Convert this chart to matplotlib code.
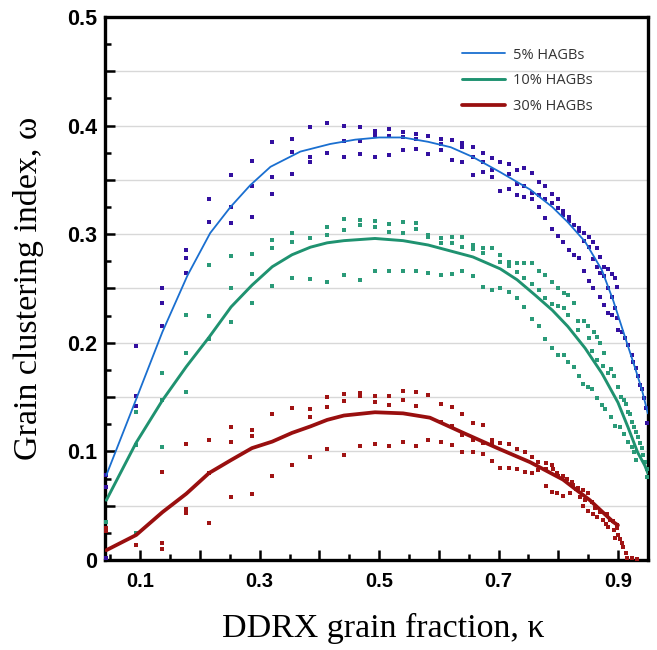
import matplotlib
matplotlib.use('Agg')
import matplotlib.pyplot as plt
import numpy as np
from matplotlib.ticker import MultipleLocator, FuncFormatter

# ---- data: (kappa, omega) pairs ----
hagb5_pts = [
    (0.043, 0.078), (0.043, 0.067), (0.043, 0.002),
    (0.093, 0.197), (0.093, 0.151), (0.093, 0.142),
    (0.137, 0.250), (0.137, 0.237), (0.137, 0.215),
    (0.177, 0.285), (0.177, 0.278), (0.177, 0.264),
    (0.215, 0.332), (0.215, 0.311),
    (0.252, 0.354), (0.252, 0.325), (0.252, 0.310),
    (0.287, 0.367), (0.287, 0.344), (0.287, 0.316),
    (0.321, 0.385), (0.321, 0.353), (0.321, 0.337),
    (0.354, 0.388), (0.354, 0.376), (0.354, 0.355),
    (0.385, 0.399), (0.385, 0.371), (0.385, 0.366),
    (0.413, 0.402), (0.413, 0.375),
    (0.441, 0.400), (0.441, 0.386), (0.441, 0.371),
    (0.468, 0.399), (0.468, 0.386), (0.468, 0.374),
    (0.493, 0.395), (0.493, 0.391), (0.493, 0.371),
    (0.517, 0.397), (0.517, 0.390), (0.517, 0.373),
    (0.540, 0.394), (0.540, 0.389), (0.540, 0.377),
    (0.562, 0.392), (0.562, 0.388), (0.562, 0.378),
    (0.582, 0.390), (0.582, 0.374),
    (0.604, 0.388), (0.604, 0.383), (0.604, 0.377),
    (0.622, 0.387), (0.622, 0.368),
    (0.639, 0.384), (0.639, 0.380), (0.639, 0.366),
    (0.657, 0.380), (0.657, 0.371), (0.657, 0.354),
    (0.674, 0.375), (0.674, 0.366), (0.674, 0.357),
    (0.689, 0.370), (0.689, 0.359), (0.689, 0.353),
    (0.703, 0.366), (0.703, 0.340),
    (0.718, 0.365), (0.718, 0.355), (0.718, 0.342),
    (0.731, 0.359), (0.731, 0.346), (0.731, 0.336),
    (0.743, 0.361), (0.743, 0.344), (0.743, 0.334),
    (0.756, 0.356), (0.756, 0.338), (0.756, 0.332),
    (0.768, 0.348), (0.768, 0.336), (0.768, 0.325),
    (0.778, 0.344), (0.778, 0.332), (0.778, 0.315),
    (0.790, 0.337), (0.790, 0.329), (0.790, 0.305),
    (0.800, 0.332), (0.800, 0.324), (0.800, 0.298),
    (0.808, 0.321), (0.808, 0.318), (0.808, 0.293),
    (0.818, 0.316), (0.818, 0.312), (0.818, 0.285),
    (0.826, 0.308), (0.826, 0.281),
    (0.835, 0.306), (0.835, 0.303), (0.835, 0.278),
    (0.843, 0.301), (0.843, 0.294), (0.843, 0.266),
    (0.851, 0.297), (0.851, 0.288), (0.851, 0.257),
    (0.858, 0.293), (0.858, 0.277), (0.858, 0.250),
    (0.865, 0.287), (0.865, 0.270),
    (0.870, 0.279), (0.870, 0.264), (0.870, 0.242),
    (0.877, 0.270), (0.877, 0.261), (0.877, 0.235),
    (0.883, 0.268), (0.883, 0.250), (0.883, 0.227),
    (0.890, 0.263), (0.890, 0.242), (0.890, 0.226),
    (0.895, 0.260), (0.895, 0.232),
    (0.898, 0.251), (0.898, 0.223),
    (0.900, 0.212), (0.907, 0.210), (0.912, 0.204), (0.917, 0.198),
    (0.923, 0.189), (0.925, 0.182), (0.930, 0.177), (0.933, 0.169),
    (0.937, 0.161), (0.940, 0.157), (0.943, 0.149), (0.947, 0.140),
    (0.949, 0.126),
]

hagb10_pts = [
    (0.043, 0.035),
    (0.093, 0.136), (0.093, 0.106), (0.093, 0.025),
    (0.137, 0.172), (0.137, 0.147), (0.137, 0.104),
    (0.177, 0.226), (0.177, 0.191), (0.177, 0.155),
    (0.215, 0.272), (0.215, 0.225), (0.215, 0.203),
    (0.252, 0.280), (0.252, 0.250), (0.252, 0.219),
    (0.287, 0.282), (0.287, 0.263), (0.287, 0.237),
    (0.321, 0.295), (0.321, 0.287), (0.321, 0.252),
    (0.354, 0.301), (0.354, 0.293), (0.354, 0.260),
    (0.385, 0.296), (0.385, 0.259),
    (0.413, 0.307), (0.413, 0.299), (0.413, 0.256),
    (0.441, 0.314), (0.441, 0.304), (0.441, 0.262),
    (0.468, 0.313), (0.468, 0.308), (0.468, 0.258),
    (0.493, 0.312), (0.493, 0.307), (0.493, 0.266),
    (0.517, 0.309), (0.517, 0.302), (0.517, 0.266),
    (0.540, 0.311), (0.540, 0.301), (0.540, 0.266),
    (0.562, 0.310), (0.562, 0.305), (0.562, 0.266),
    (0.582, 0.299), (0.582, 0.297), (0.582, 0.264),
    (0.604, 0.296), (0.604, 0.292), (0.604, 0.262),
    (0.622, 0.297), (0.622, 0.292), (0.622, 0.263),
    (0.639, 0.297), (0.639, 0.288), (0.639, 0.266),
    (0.657, 0.290), (0.657, 0.286), (0.657, 0.261),
    (0.674, 0.287), (0.674, 0.283), (0.674, 0.251),
    (0.689, 0.287), (0.689, 0.249),
    (0.703, 0.281), (0.703, 0.274), (0.703, 0.250),
    (0.718, 0.274), (0.718, 0.271), (0.718, 0.247),
    (0.731, 0.273), (0.731, 0.265), (0.731, 0.241),
    (0.743, 0.273), (0.743, 0.260), (0.743, 0.233),
    (0.756, 0.273), (0.756, 0.254), (0.756, 0.222),
    (0.768, 0.266), (0.768, 0.249), (0.768, 0.215),
    (0.778, 0.262), (0.778, 0.241), (0.778, 0.203),
    (0.790, 0.256), (0.790, 0.236), (0.790, 0.195),
    (0.800, 0.250), (0.800, 0.234), (0.800, 0.189),
    (0.809, 0.246), (0.809, 0.232), (0.809, 0.189),
    (0.817, 0.244), (0.817, 0.226), (0.817, 0.182),
    (0.826, 0.237), (0.826, 0.178),
    (0.833, 0.220), (0.833, 0.212), (0.835, 0.169),
    (0.841, 0.162), (0.843, 0.220),
    (0.850, 0.215), (0.850, 0.159), (0.852, 0.204),
    (0.857, 0.192), (0.857, 0.157), (0.860, 0.210),
    (0.865, 0.205), (0.865, 0.184), (0.865, 0.149),
    (0.870, 0.200), (0.873, 0.143), (0.875, 0.179), (0.877, 0.191),
    (0.878, 0.139), (0.883, 0.172), (0.888, 0.176), (0.888, 0.132),
    (0.893, 0.169), (0.895, 0.123), (0.900, 0.159), (0.903, 0.122),
    (0.905, 0.150), (0.910, 0.147), (0.910, 0.116), (0.913, 0.144),
    (0.917, 0.136), (0.917, 0.109), (0.920, 0.134), (0.923, 0.127),
    (0.923, 0.104), (0.927, 0.122), (0.927, 0.099), (0.930, 0.118),
    (0.930, 0.092), (0.933, 0.113), (0.937, 0.108), (0.940, 0.103),
    (0.942, 0.097), (0.945, 0.090), (0.948, 0.084), (0.948, 0.076),
]

hagb30_pts = [
    (0.043, 0.029), (0.043, 0.027),
    (0.093, 0.014),
    (0.137, 0.081), (0.137, 0.016), (0.137, 0.010),
    (0.177, 0.107), (0.177, 0.047), (0.177, 0.043),
    (0.215, 0.110), (0.215, 0.080), (0.215, 0.034),
    (0.252, 0.122), (0.252, 0.109), (0.252, 0.058),
    (0.287, 0.120), (0.287, 0.114), (0.287, 0.061),
    (0.321, 0.134), (0.321, 0.077),
    (0.354, 0.140), (0.354, 0.087),
    (0.385, 0.139), (0.385, 0.132), (0.385, 0.095),
    (0.413, 0.150), (0.413, 0.141), (0.413, 0.102),
    (0.441, 0.153), (0.441, 0.146), (0.441, 0.097),
    (0.468, 0.154), (0.468, 0.151), (0.468, 0.105),
    (0.493, 0.151), (0.493, 0.145), (0.493, 0.107),
    (0.517, 0.151), (0.517, 0.143), (0.517, 0.105),
    (0.540, 0.156), (0.540, 0.147), (0.540, 0.109),
    (0.562, 0.155), (0.562, 0.142), (0.562, 0.105),
    (0.582, 0.152), (0.582, 0.110),
    (0.604, 0.144), (0.604, 0.127), (0.604, 0.109),
    (0.622, 0.141), (0.622, 0.123), (0.622, 0.106),
    (0.639, 0.134), (0.639, 0.115), (0.639, 0.099),
    (0.657, 0.126), (0.657, 0.110), (0.657, 0.099),
    (0.674, 0.124), (0.674, 0.108), (0.674, 0.098),
    (0.689, 0.110), (0.689, 0.107), (0.689, 0.091),
    (0.703, 0.108), (0.703, 0.085),
    (0.718, 0.107), (0.718, 0.085),
    (0.731, 0.102), (0.731, 0.084),
    (0.744, 0.099), (0.744, 0.081),
    (0.756, 0.095), (0.756, 0.080),
    (0.766, 0.090), (0.766, 0.083),
    (0.779, 0.089), (0.780, 0.084), (0.780, 0.068),
    (0.790, 0.087), (0.791, 0.084), (0.790, 0.063),
    (0.798, 0.080), (0.798, 0.062), (0.800, 0.077),
    (0.808, 0.077), (0.808, 0.059),
    (0.815, 0.075), (0.820, 0.062), (0.823, 0.072), (0.825, 0.069),
    (0.830, 0.065), (0.833, 0.066), (0.837, 0.058),
    (0.842, 0.064), (0.842, 0.050), (0.845, 0.055),
    (0.850, 0.062), (0.850, 0.045), (0.857, 0.053), (0.858, 0.042),
    (0.862, 0.048), (0.865, 0.040), (0.870, 0.044), (0.875, 0.037),
    (0.880, 0.033), (0.882, 0.042), (0.883, 0.030), (0.887, 0.037),
    (0.892, 0.036), (0.893, 0.028), (0.895, 0.020), (0.898, 0.032),
    (0.898, 0.029), (0.900, 0.023), (0.903, 0.019), (0.907, 0.016),
    (0.908, 0.012), (0.913, 0.006), (0.915, 0.002), (0.923, 0.002),
    (0.932, 0.001),
]

# fitted trend curves
fit5_k = [0.043, 0.093, 0.137, 0.179, 0.217, 0.251, 0.284, 0.318, 0.368, 0.418,
          0.46, 0.50, 0.54, 0.582, 0.62, 0.657, 0.703, 0.753, 0.790, 0.816,
          0.845, 0.873, 0.892, 0.912, 0.928, 0.940, 0.950]
fit5_w = [0.078, 0.148, 0.210, 0.262, 0.301, 0.325, 0.345, 0.362, 0.376, 0.383,
          0.387, 0.389, 0.389, 0.385, 0.380, 0.371, 0.357, 0.341, 0.325, 0.311,
          0.293, 0.267, 0.239, 0.205, 0.178, 0.157, 0.135]

fit10_k = [0.043, 0.093, 0.137, 0.177, 0.215, 0.252, 0.287, 0.321, 0.354, 0.385,
           0.413, 0.441, 0.493, 0.540, 0.582, 0.657, 0.703, 0.731, 0.761, 0.790,
           0.816, 0.845, 0.873, 0.900, 0.917, 0.933, 0.945, 0.950]
fit10_w = [0.055, 0.108, 0.147, 0.178, 0.205, 0.233, 0.253, 0.270, 0.281, 0.288,
           0.292, 0.294, 0.296, 0.294, 0.290, 0.279, 0.268, 0.258, 0.244, 0.230,
           0.215, 0.195, 0.172, 0.145, 0.122, 0.099, 0.087, 0.080]

fit30_k = [0.043, 0.093, 0.137, 0.177, 0.215, 0.252, 0.287, 0.321, 0.354, 0.385,
           0.413, 0.441, 0.493, 0.540, 0.585, 0.641, 0.698, 0.753, 0.808, 0.853,
           0.892, 0.900]
fit30_w = [0.009, 0.023, 0.044, 0.061, 0.080, 0.092, 0.103, 0.109, 0.117, 0.123,
           0.129, 0.133, 0.136, 0.135, 0.131, 0.117, 0.103, 0.090, 0.074, 0.055,
           0.035, 0.032]

labels = ['5% HAGBs', '10% HAGBs', '30% HAGBs']
line_colors = ['#1a6fd0', '#1f9270', '#990f0f']
dot_colors = ['#3310a0', '#2a9a78', '#a01414']
line_widths = [1.3, 2.1, 2.7]

fig = plt.figure(figsize=(6.57, 6.50), dpi=100)
ax = fig.add_axes([0.160, 0.1385, 0.826, 0.8355])

series = [(hagb5_pts, fit5_k, fit5_w), (hagb10_pts, fit10_k, fit10_w),
          (hagb30_pts, fit30_k, fit30_w)]

for i, (pts, fk, fw) in enumerate(series):
    p = np.array(pts)
    ax.scatter(p[:, 0], p[:, 1], marker='s', s=11, color=dot_colors[i],
               linewidths=0, zorder=3, clip_on=False)
    ax.plot(fk, fw, color=line_colors[i], lw=line_widths[i], label=labels[i],
            zorder=4, solid_capstyle='round')

ax.set_xlim(0.041, 0.95)
ax.set_ylim(0, 0.5)

# grid on every 0.05 in y
ax.yaxis.set_major_locator(MultipleLocator(0.05))
ax.yaxis.set_minor_locator(MultipleLocator(0.025))
ax.xaxis.set_major_locator(MultipleLocator(0.1))
ax.xaxis.set_minor_locator(MultipleLocator(0.05))
ax.grid(axis='y', which='major', color='#d8d8d8', lw=1.0, zorder=0)
ax.set_axisbelow(True)


def yfmt(v, pos):
    r = round(v * 10)
    if abs(v * 10 - r) > 1e-6:
        return ''
    return '0' if r == 0 else '%.1f' % v


def xfmt(v, pos):
    r = round(v * 10)
    if abs(v * 10 - r) > 1e-6 or r % 2 == 0:
        return ''
    return '%.1f' % v


ax.yaxis.set_major_formatter(FuncFormatter(yfmt))
ax.xaxis.set_major_formatter(FuncFormatter(xfmt))

ax.tick_params(which='major', direction='in', length=7, width=1.8, pad=7)
ax.tick_params(which='minor', direction='in', length=4, width=1.8)
ax.tick_params(axis='y', which='major', labelsize=15.5, pad=6)
ax.tick_params(axis='x', which='major', labelsize=14.5, pad=9)
for lab in ax.get_xticklabels() + ax.get_yticklabels():
    lab.set_fontweight('bold')
    lab.set_family('Liberation Sans')

for sp in ax.spines.values():
    sp.set_linewidth(2.4)

ax.set_xlabel('DDRX grain fraction, \u03ba', family='Liberation Serif', fontsize=24.5)
ax.set_ylabel('Grain clustering index, \u03c9', family='Liberation Serif', fontsize=24.5)
ax.xaxis.set_label_coords(0.512, -0.098)
ax.yaxis.set_label_coords(-0.112, 0.5)

leg = ax.legend(loc='upper left', bbox_to_anchor=(0.645, 0.957), frameon=False,
                prop={'family': 'Open Sans', 'size': 10.5}, handlelength=2.9,
                handletextpad=0.6, labelspacing=0.75, borderpad=0)
for t in leg.get_texts():
    t.set_color('#333333')

fig.savefig('out.png', dpi=100)
